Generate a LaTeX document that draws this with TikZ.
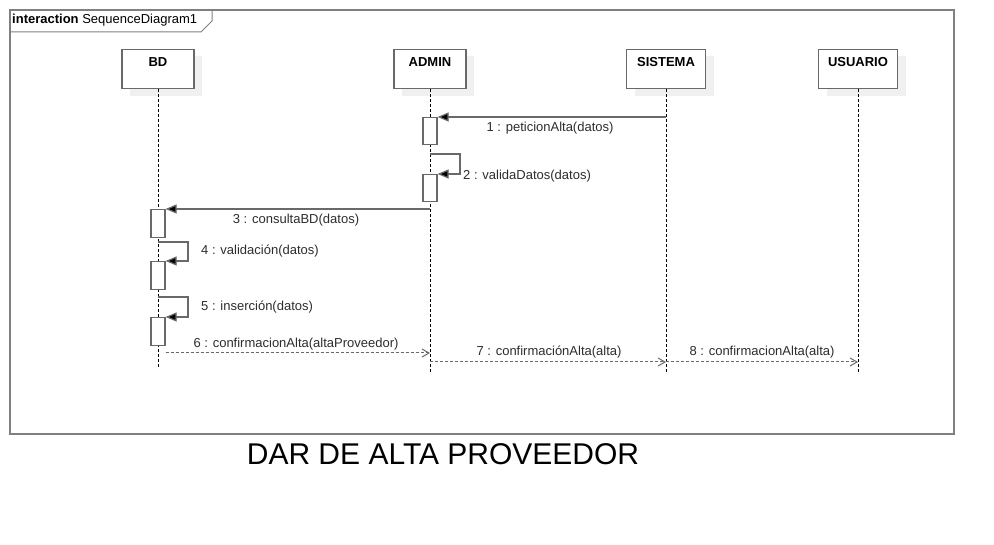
\documentclass[tikz,border=0pt]{standalone}
\usepackage{fontspec}
\setmainfont{Liberation Sans}
\usetikzlibrary{arrows.meta,shadows}
\definecolor{linegray}{RGB}{105,105,105}
\definecolor{framegray}{RGB}{128,128,128}
\definecolor{shadowgray}{RGB}{240,240,240}
\definecolor{txtgray}{RGB}{45,45,45}
\tikzset{
  headbox/.style={draw=linegray, line width=1.2pt, fill=white, minimum width=72pt,
    inner ysep=7.5pt, text height=10pt, text depth=14.5pt,
    font=\fontsize{13}{15}\selectfont\bfseries,
    general shadow={fill=shadowgray, shadow xshift=8pt, shadow yshift=-7pt}},
  actbox/.style={draw=linegray, line width=1.2pt, fill=white, minimum width=14pt,
    inner sep=0pt, anchor=north},
  lifeline/.style={black, line width=0.8pt, dash pattern=on 3pt off 2pt},
  syncmsg/.style={linegray, line width=1.2pt, -{Triangle[length=11pt,width=9pt,fill=black]}},
  retmsg/.style={linegray, line width=1pt, dash pattern=on 3pt off 2pt,
    -{Straight Barb[length=7pt,width=8pt]}},
  msgtxt/.style={font=\fontsize{13}{15}\selectfont, text=txtgray, inner sep=0pt}
}
\begin{document}
\begin{tikzpicture}[x=1pt,y=-1pt]
  \useasboundingbox[fill=white] (0,0) rectangle (994,545);

  \draw[framegray, line width=1.2pt] (10,10) rectangle (954,434);
  \draw[framegray, line width=1pt] (10,32) -- (201,32) -- (212,21) -- (212,10);
  \node[msgtxt, text=black, anchor=west] (tabtxt) at (12,20) {\textbf{interaction} SequenceDiagram1};

  \node[headbox] (bd) at (158,69) {BD};
  \node[headbox] (admin) at (430,69) {ADMIN};
  \node[headbox, minimum width=79pt] (sistema) at (666,69) {SISTEMA};
  \node[headbox, minimum width=79pt] (usuario) at (858,69) {USUARIO};

  \draw[lifeline] (bd.south) -- (bd |- 0,369);
  \draw[lifeline] (admin.south) -- (admin |- 0,373);
  \draw[lifeline] (sistema.south) -- (sistema |- 0,373);
  \draw[lifeline] (usuario.south) -- (usuario |- 0,373);

  \node[actbox, minimum height=27pt] (a1) at (430,117) {};
  \node[actbox, minimum height=27pt] (a2) at (430,174) {};
  \node[actbox, minimum height=28pt] (a3) at (158,209) {};
  \node[actbox, minimum height=28pt] (a4) at (158,261) {};
  \node[actbox, minimum height=28pt] (a5) at (158,317) {};

  \draw[syncmsg] (sistema |- a1.north) -- (a1.north east);
  \node[msgtxt] (m1) at (550,128) {1 : peticionAlta(datos)};

  \draw[syncmsg] (admin |- 0,154) -- (460,154) |- (a2.north east);
  \node[msgtxt, anchor=west] (m2) at (463,176) {2 : validaDatos(datos)};

  \draw[syncmsg] (admin |- a3.north) -- (a3.north east);
  \node[msgtxt] (m3) at (296,220) {3 : consultaBD(datos)};

  \draw[syncmsg] (bd |- 0,242) -- (188,242) |- (a4.north east);
  \node[msgtxt, anchor=west] (m4) at (201,251) {4 : validación(datos)};

  \draw[syncmsg] (bd |- 0,297) -- (188,297) |- (a5.north east);
  \node[msgtxt, anchor=west] (m5) at (201,307) {5 : inserción(datos)};

  \draw[retmsg] (a5.east |- 0,353) -- (admin |- 0,353);
  \node[msgtxt] (m6) at (296,344) {6 : confirmacionAlta(altaProveedor)};

  \draw[retmsg] (admin |- 0,362) -- (sistema |- 0,362);
  \node[msgtxt] (m7) at (549,352) {7 : confirmaciónAlta(alta)};

  \draw[retmsg] (sistema |- 0,362) -- (usuario |- 0,362);
  \node[msgtxt] (m8) at (762,352) {8 : confirmacionAlta(alta)};

  \node[font=\fontsize{30}{34}\selectfont, inner sep=0pt] (titulo) at (443,454) {DAR DE ALTA PROVEEDOR};
\end{tikzpicture}
\end{document}
